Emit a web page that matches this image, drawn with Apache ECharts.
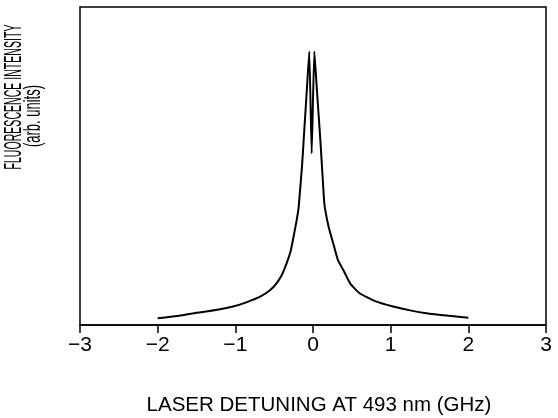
<!DOCTYPE html>
<html>
<head>
<meta charset="utf-8">
<script src="https://cdn.jsdelivr.net/npm/echarts@6/dist/echarts.min.js"></script>
<style>
html,body{margin:0;padding:0;background:#fff;}
#chart{width:558px;height:418px;}
</style>
</head>
<body>
<div id="chart"></div>
<script>
// Detuning (GHz) and fluorescence intensity (arb. units, 0-100 scale)
var detuning = [-2.0, -1.75, -1.54, -1.25, -1.03, -0.85, -0.68, -0.55, -0.47, -0.40, -0.34, -0.29, -0.25, -0.21, -0.185,
  -0.14, -0.11, -0.08, -0.048, -0.017, 0.017, 0.04, 0.07, 0.10, 0.142, 0.154, 0.20, 0.26, 0.32, 0.39, 0.48, 0.60,
  0.80, 1.03, 1.25, 1.46, 1.75, 2.0];
var intensity = [2.1, 2.8, 3.7, 4.7, 5.8, 7.2, 8.9, 11.0, 13.1, 15.8, 19.4, 23.0, 27.8, 33.0, 37.0,
  50.5, 62.1, 73.7, 86.0, 54.0, 86.0, 77.7, 66.9, 56.1, 39.3, 36.7, 31.0, 25.7, 20.5, 17.3, 13.0, 10.0,
  7.5, 5.8, 4.6, 3.7, 2.9, 2.3];
var xTicks = [-3, -2, -1, 0, 1, 2, 3];
var xTitle = 'LASER DETUNING AT 493 nm (GHz)';
var yTitle1 = 'FLUORESCENCE INTENSITY';
var yTitle2 = '(arb. units)';

var pts = detuning.map(function (x, i) { return [x, intensity[i]]; });
var chart = echarts.init(document.getElementById('chart'));
var FONT = '"Liberation Sans", Arial, sans-serif';
chart.setOption({
  animation: false,
  backgroundColor: '#fff',
  grid: { left: 80, right: 12, top: 7, bottom: 93, show: true, borderColor: '#000', borderWidth: 1.5 },
  xAxis: {
    type: 'value', min: xTicks[0], max: xTicks[xTicks.length - 1], interval: 1,
    axisLine: { lineStyle: { color: '#000', width: 1.5 } },
    axisTick: { show: true, inside: false, length: 8, lineStyle: { color: '#000', width: 1.5 } },
    axisLabel: { color: '#000', fontSize: 21, fontFamily: FONT, margin: 10,
      formatter: function (v) { return String(v).replace('-', '\u2212'); } },
    splitLine: { show: false }
  },
  yAxis: {
    type: 'value', min: 0, max: 100,
    axisLine: { show: false }, axisTick: { show: false }, axisLabel: { show: false }, splitLine: { show: false }
  },
  series: [{
    type: 'line', data: pts, showSymbol: false, smooth: 0.15,
    lineStyle: { color: '#000', width: 2 }
  }],
  graphic: [
    { type: 'text', x: 319, y: 405,
      style: { text: xTitle, fill: '#000', font: '20.5px ' + FONT, textAlign: 'center', textVerticalAlign: 'middle' } },
    { type: 'text', x: 14, y: 97, rotation: Math.PI / 2, scaleX: 0.44,
      style: { text: yTitle1, fill: '#000', font: '24px ' + FONT, textAlign: 'center', textVerticalAlign: 'middle' } },
    { type: 'text', x: 33, y: 116, rotation: Math.PI / 2, scaleX: 0.54,
      style: { text: yTitle2, fill: '#000', font: '24px ' + FONT, textAlign: 'center', textVerticalAlign: 'middle' } }
  ]
});
</script>
</body>
</html>
